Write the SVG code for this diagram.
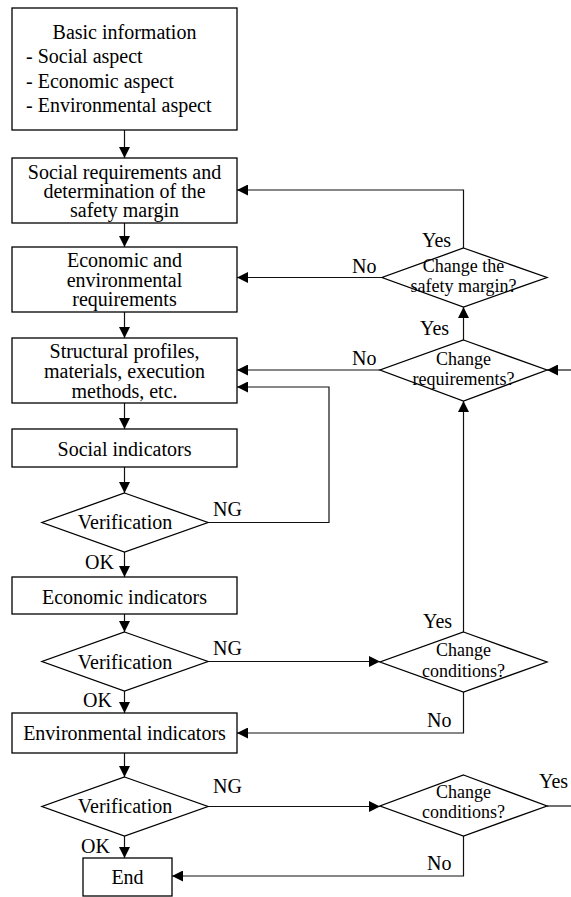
<svg xmlns="http://www.w3.org/2000/svg" width="571" height="897" viewBox="0 0 571 897">
<style>
.n{fill:#fff;stroke:#000;stroke-width:1.3}
.t{font-family:"Liberation Serif","Times New Roman",serif;font-size:20px;fill:#000}
.s{font-family:"Liberation Serif","Times New Roman",serif;font-size:18px;fill:#000}
.c{text-anchor:middle}
.e{fill:none;stroke:#111;stroke-width:1.2}
</style>
<defs>
<marker id="a" markerUnits="userSpaceOnUse" markerWidth="11" markerHeight="11" refX="11" refY="5.5" orient="auto" viewBox="0 0 11 11">
<path d="M0,0 L11,5.5 L0,11 z" fill="#000"/>
</marker>
</defs>
<rect width="571" height="897" fill="#fff"/>
<g id="connectors">
<path class="e" d="M124.5,130 V158" marker-end="url(#a)"/>
<path class="e" d="M124.5,223 V247" marker-end="url(#a)"/>
<path class="e" d="M124.5,312 V338" marker-end="url(#a)"/>
<path class="e" d="M124.5,403 V429" marker-end="url(#a)"/>
<path class="e" d="M124.5,467 V493" marker-end="url(#a)"/>
<path class="e" d="M124.5,552 V577" marker-end="url(#a)"/>
<path class="e" d="M124.5,614 V632" marker-end="url(#a)"/>
<path class="e" d="M124.5,691 V713" marker-end="url(#a)"/>
<path class="e" d="M124.5,753 V777" marker-end="url(#a)"/>
<path class="e" d="M124.5,836 V858" marker-end="url(#a)"/>
<path class="e" d="M208,522.5 H329 V387 H237" marker-end="url(#a)"/>
<path class="e" d="M208,661.5 H380" marker-end="url(#a)"/>
<path class="e" d="M463.5,632 V401" marker-end="url(#a)"/>
<path class="e" d="M463.5,692 V733 H237" marker-end="url(#a)"/>
<path class="e" d="M208,806.5 H380" marker-end="url(#a)"/>
<path class="e" d="M547,806 H571"/>
<path class="e" d="M463.5,836 V876 H172" marker-end="url(#a)"/>
<path class="e" d="M463.5,248 V190 H237" marker-end="url(#a)"/>
<path class="e" d="M382,277.5 H237" marker-end="url(#a)"/>
<path class="e" d="M463.5,340 V307" marker-end="url(#a)"/>
<path class="e" d="M380,370 H237" marker-end="url(#a)"/>
<path class="e" d="M571,370 H547" marker-end="url(#a)"/>
<text class="t" x="213" y="516">NG</text>
<text class="t" x="85" y="569">OK</text>
<text class="t" x="213" y="655">NG</text>
<text class="t" x="83" y="707">OK</text>
<text class="t" x="213" y="793">NG</text>
<text class="t" x="81" y="853">OK</text>
<text class="t" x="423" y="628">Yes</text>
<text class="t" x="427" y="727">No</text>
<text class="t" x="539" y="788">Yes</text>
<text class="t" x="427" y="870">No</text>
<text class="t" x="422" y="247">Yes</text>
<text class="t" x="352" y="273">No</text>
<text class="t" x="420" y="335">Yes</text>
<text class="t" x="352" y="365">No</text>
</g>
<g id="basic">
<rect class="n" x="12" y="8" width="225" height="122"/>
<text class="t c" x="124.5" y="39">Basic information</text>
<text class="t" x="26" y="63">- Social aspect</text>
<text class="t" x="26" y="88">- Economic aspect</text>
<text class="t" x="26" y="112">- Environmental aspect</text>
</g>
<g id="social-req">
<rect class="n" x="12" y="158" width="225" height="65"/>
<text class="t c" x="124.5" y="179">Social requirements and</text>
<text class="t c" x="124.5" y="198">determination of the</text>
<text class="t c" x="124.5" y="217">safety margin</text>
</g>
<g id="econ-req">
<rect class="n" x="12" y="247" width="225" height="65"/>
<text class="t c" x="124.5" y="267">Economic and</text>
<text class="t c" x="124.5" y="287">environmental</text>
<text class="t c" x="124.5" y="306">requirements</text>
</g>
<g id="structural">
<rect class="n" x="12" y="338" width="225" height="65"/>
<text class="t c" x="124.5" y="358">Structural profiles,</text>
<text class="t c" x="124.5" y="378">materials, execution</text>
<text class="t c" x="124.5" y="398">methods, etc.</text>
</g>
<g id="social-ind">
<rect class="n" x="12" y="429" width="225" height="38"/>
<text class="t c" x="124.5" y="456">Social indicators</text>
</g>
<g id="verif1">
<polygon class="n" points="124.5,493 208,522.5 124.5,552 42,522.5"/>
<text class="t c" x="125" y="529">Verification</text>
</g>
<g id="econ-ind">
<rect class="n" x="12" y="577" width="225" height="37"/>
<text class="t c" x="124.5" y="604">Economic indicators</text>
</g>
<g id="verif2">
<polygon class="n" points="124.5,632 208,661.5 124.5,691 42,661.5"/>
<text class="t c" x="125" y="669">Verification</text>
</g>
<g id="env-ind">
<rect class="n" x="12" y="713" width="225" height="40"/>
<text class="t c" x="124.5" y="740">Environmental indicators</text>
</g>
<g id="verif3">
<polygon class="n" points="124.5,777 208,806.5 124.5,836 42,806.5"/>
<text class="t c" x="125" y="813">Verification</text>
</g>
<g id="end">
<rect class="n" x="83" y="858" width="89" height="38"/>
<text class="t c" x="127.5" y="884">End</text>
</g>
<g id="change-margin">
<polygon class="n" points="463.5,248 547,277.5 463.5,307 382,277.5"/>
<text class="s c" x="463.5" y="272">Change the</text>
<text class="s c" x="463.5" y="292">safety margin?</text>
</g>
<g id="change-req">
<polygon class="n" points="463.5,340 547,370 463.5,401 380,370"/>
<text class="s c" x="463.5" y="365">Change</text>
<text class="s c" x="463.5" y="385">requirements?</text>
</g>
<g id="change-cond1">
<polygon class="n" points="463.5,632 547,662 463.5,692 380,662"/>
<text class="s c" x="463.5" y="656">Change</text>
<text class="s c" x="463.5" y="677">conditions?</text>
</g>
<g id="change-cond2">
<polygon class="n" points="463.5,775 547,806 463.5,836 380,806"/>
<text class="s c" x="463.5" y="798">Change</text>
<text class="s c" x="463.5" y="818">conditions?</text>
</g>
</svg>
